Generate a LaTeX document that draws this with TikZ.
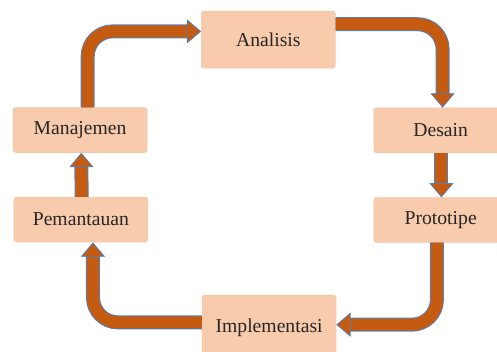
\documentclass[tikz,border=0pt]{standalone}
\usepackage{fontspec}
\setmainfont{Liberation Serif}
\usetikzlibrary{arrows.meta}

\definecolor{boxfill}{RGB}{248,203,173}
\definecolor{boxline}{RGB}{242,197,167}
\definecolor{arrowfill}{RGB}{197,90,17}
\definecolor{arrowline}{RGB}{79,129,189}

\begin{document}
\begin{tikzpicture}[every node/.style={rectangle, rounded corners=2pt, draw=boxline, fill=boxfill, text=black!85, minimum width=3.54cm, font=\fontsize{14.8}{18}\selectfont},
    fat/.style={line width=0.32cm, draw=arrowfill, rounded corners=0.66cm,
        -{Triangle[width=0.64cm, length=0.38cm, fill=arrowfill, color=arrowline, line width=0.6pt]},
        preaction={draw=arrowline, line width=0.37cm, -, shorten >=0.3cm}}]
    \useasboundingbox (0,0) rectangle (13.15,-9.31);
                \node[minimum height=1.51cm] (analisis) at (7.10, -1.05) {Analisis};
                \node[minimum height=1.19cm] (desain) at (11.66, -3.45) {Desain};
                \node[minimum height=1.18cm] (prototipe) at (11.66, -5.82) {Prototipe};
                \node[minimum height=1.72cm] (implementasi) at (7.12, -8.67) {Implementasi};
                \node[minimum height=1.19cm] (manajemen) at (2.12, -3.44) {Manajemen};
                \node[minimum height=1.19cm] (pemantauan) at (2.14, -5.81) {Pemantauan};
                \draw[fat] ([xshift=0.2cm]manajemen.north) |- ([yshift=0.22cm]analisis.west);
                \draw[fat] ([yshift=0.41cm]analisis.east) -| ([xshift=0.05cm]desain.north);
                \draw[fat] ([xshift=0.02cm]desain.south) -- ([xshift=0.02cm]prototipe.north);
                \draw[fat] ([xshift=-0.1cm]prototipe.south) |- ([yshift=0.08cm]implementasi.east);
                \draw[fat] ([yshift=0.14cm]implementasi.west) -| ([xshift=0.32cm]pemantauan.south);
                \draw[fat] ([xshift=0.02cm]pemantauan.north) -- ([xshift=0.03cm]manajemen.south);
            \end{tikzpicture}
\end{document}
